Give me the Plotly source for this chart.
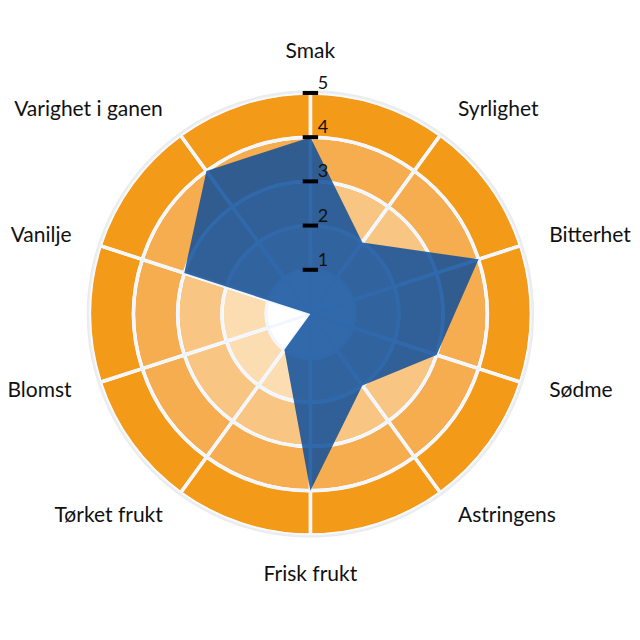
import plotly.graph_objects as go

# sensory profile, clockwise from the top
categories = ["Smak", "Syrlighet", "Bitterhet", "Sødme", "Astringens",
              "Frisk frukt", "Tørket frukt", "Blomst", "Vanilje", "Varighet i ganen"]
scores = [4, 2, 4, 3, 2, 4, 1, 0, 3, 4]

# background bands, inner to outer
band_levels = [0, 1, 2, 3, 4]
band_colors = ["#ffffff", "#fcdcb1", "#f8c583", "#f5ad50", "#f39a18"]

tick_vals = [1, 2, 3, 4, 5]
tick_text = ["1", "2", "3", "4", "5"]

n = len(categories)
step = 360 / n
cat_theta = [i * step for i in range(n)]
band_theta = [t + step / 2 for t in cat_theta]


def label_pos(t):
    # anchor each category label on the side facing away from the centre
    if t == 0:
        return "top center"
    if t == 180:
        return "bottom center"
    return "middle right" if t < 180 else "middle left"


fig = go.Figure()

for lvl, col in zip(band_levels, band_colors):
    fig.add_trace(go.Barpolar(
        r=[1] * n, base=[lvl] * n, theta=band_theta, width=[step] * n,
        marker=dict(color=col, line=dict(color="white", width=3.5)),
        hoverinfo="skip", showlegend=False,
    ))

# thin grey rim around the outer band
fig.add_trace(go.Barpolar(
    r=[0.06], base=[5], theta=[180], width=[360],
    marker=dict(color="#ebebeb", line=dict(width=0)),
    hoverinfo="skip", showlegend=False,
))

fig.add_trace(go.Scatterpolar(
    r=scores + scores[:1], theta=cat_theta + cat_theta[:1],
    mode="lines", fill="toself",
    fillcolor="rgba(10,76,155,0.84)",
    line=dict(color="rgba(10,76,155,0.0)", width=0),
    hoverinfo="skip", showlegend=False,
))

# faint grid drawn over the filled area
for lvl in band_levels:
    fig.add_trace(go.Barpolar(
        r=[1] * n, base=[lvl] * n, theta=band_theta, width=[step] * n,
        marker=dict(color="rgba(0,0,0,0)", line=dict(color="rgba(235,242,255,0.42)", width=3)),
        hoverinfo="skip", showlegend=False,
    ))

# radial ticks and their labels
fig.add_trace(go.Scatterpolar(
    r=tick_vals, theta=[0] * len(tick_vals), mode="markers",
    marker=dict(symbol="line-ew", size=11, color="black",
                line=dict(color="black", width=4)),
    hoverinfo="skip", showlegend=False, cliponaxis=False,
))
fig.add_trace(go.Scatterpolar(
    r=[v + 0.19 for v in tick_vals], theta=[0] * len(tick_vals),
    mode="markers+text", text=tick_text, textposition="middle right",
    marker=dict(size=10, color="rgba(0,0,0,0)"),
    textfont=dict(family="Lato", size=18, color="#111111"),
    hoverinfo="skip", showlegend=False, cliponaxis=False,
))

# category labels just outside the outer band
fig.add_trace(go.Scatterpolar(
    r=[5.68] * n, theta=cat_theta,
    mode="text", text=categories, textposition=[label_pos(t) for t in cat_theta],
    textfont=dict(family="Lato", size=21, color="#111111"),
    hoverinfo="skip", showlegend=False, cliponaxis=False,
))

fig.update_layout(
    width=640, height=640,
    paper_bgcolor="white",
    margin=dict(l=0, r=0, t=0, b=0),
    polar=dict(
        domain=dict(x=[0.0719, 0.8731], y=[0.1213, 0.9225]),
        bgcolor="white",
        radialaxis=dict(range=[0, 5.8], visible=False),
        angularaxis=dict(
            rotation=90, direction="clockwise",
            tickmode="array", tickvals=cat_theta, showticklabels=False,
            ticks="", showgrid=False, showline=False,
        ),
    ),
)

fig.write_html("out.html")
